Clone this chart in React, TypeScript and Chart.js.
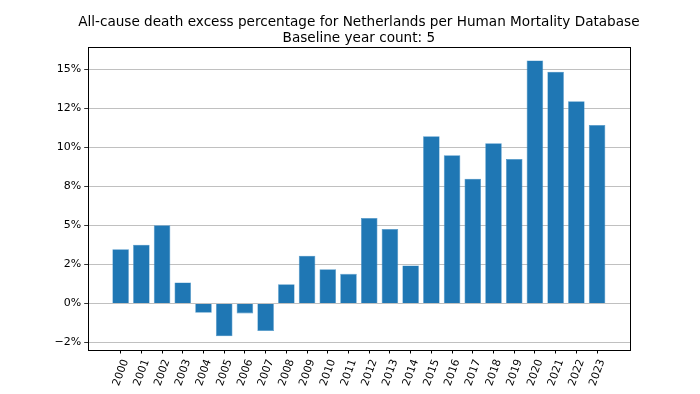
import React, { useEffect, useRef } from "react";
import { Chart, registerables } from "chart.js";

Chart.register(...registerables);

const years = [
  "2000", "2001", "2002", "2003", "2004", "2005", "2006", "2007", "2008", "2009",
  "2010", "2011", "2012", "2013", "2014", "2015", "2016", "2017", "2018", "2019",
  "2020", "2021", "2022", "2023",
];
const excessPercent = [
  3.47, 3.77, 5.01, 1.35, -0.6, -2.1, -0.64, -1.76, 1.24, 3.06,
  2.2, 1.9, 5.48, 4.77, 2.44, 10.71, 9.49, 7.99, 10.26, 9.25,
  15.57, 14.85, 12.96, 11.44,
];
const yTickValues = [-2.5, 0, 2.5, 5, 7.5, 10, 12.5, 15];
const yTickLabels = ["\u22122%", "0%", "2%", "5%", "8%", "10%", "12%", "15%"];
const titleLines = [
  "All-cause death excess percentage for Netherlands per Human Mortality Database",
  "Baseline year count: 5",
];

const FONT = "'DejaVu Sans', sans-serif";

const framePlugin = {
  id: "frame",
  afterDraw(chart: any) {
    const { ctx, chartArea } = chart;
    ctx.save();
    ctx.strokeStyle = "#000";
    ctx.lineWidth = 1;
    ctx.strokeRect(
      Math.round(chartArea.left) + 0.5,
      Math.round(chartArea.top) + 0.5,
      Math.round(chartArea.right - chartArea.left),
      Math.round(chartArea.bottom - chartArea.top)
    );
    // Title centred over the axes, like matplotlib
    const cx = (chartArea.left + chartArea.right) / 2;
    ctx.fillStyle = "#000";
    ctx.font = `13.6px ${FONT}`;
    ctx.textAlign = "center";
    ctx.textBaseline = "alphabetic";
    ctx.fillText(titleLines[0], cx, 26);
    ctx.fillText(titleLines[1], cx, 41.6);
    ctx.restore();
  },
};

export default function App() {
  const ref = useRef<HTMLCanvasElement | null>(null);
  useEffect(() => {
    document.body.style.margin = "0";
    const canvas = ref.current!;
    const chart = new Chart(canvas, {
      type: "bar",
      data: {
        datasets: [
          {
            data: excessPercent.map((v, i) => ({ x: i, y: v })),
            backgroundColor: "#1f77b4",
            borderColor: "#4a94c8",
            borderWidth: 0.6,
            barPercentage: 0.8,
            categoryPercentage: 1,
          },
        ],
      },
      options: {
        animation: false,
        responsive: false,
        maintainAspectRatio: false,
        layout: { padding: { left: 0, right: 70, top: 46.7, bottom: 0 } },
        plugins: {
          legend: { display: false },
          tooltip: { enabled: false },
          title: { display: false },
        },
        scales: {
          x: {
            type: "linear",
            min: -1.59,
            max: 24.59,
            offset: false,
            afterBuildTicks: (scale: any) => {
              scale.ticks = years.map((_, i) => ({ value: i }));
            },
            afterFit: (scale: any) => {
              scale.height = 44;
            },
            ticks: {
              autoSkip: false,
              minRotation: 70,
              maxRotation: 70,
              labelOffset: 5,
              padding: 4,
              color: "#000",
              font: { family: FONT, size: 10.8 },
              callback: (v: any) => years[v] ?? "",
            },
            grid: {
              offset: false,
              drawOnChartArea: false,
              drawTicks: true,
              tickLength: 3.5,
              tickColor: "#000",
            },
            border: { display: false },
          },
          y: {
            type: "linear",
            min: -2.98,
            max: 16.45,
            afterBuildTicks: (scale: any) => {
              scale.ticks = yTickValues.map((v) => ({ value: v }));
            },
            afterFit: (scale: any) => {
              scale.width = 87.7;
            },
            ticks: {
              color: "#000",
              padding: 3,
              font: { family: FONT, size: 11 },
              callback: (v: any) => {
                const idx = yTickValues.indexOf(Number(v));
                return idx >= 0 ? yTickLabels[idx] : "";
              },
            },
            grid: {
              color: "#b0b0b0",
              lineWidth: 0.8,
              drawTicks: true,
              tickLength: 3.5,
              tickColor: "#000",
            },
            border: { display: false },
          },
        },
      },
      plugins: [framePlugin],
    } as any);
    return () => chart.destroy();
  }, []);
  return (
    <div style={{ width: 700, height: 394 }}>
      <canvas ref={ref} width={700} height={394} style={{ display: "block" }} />
    </div>
  );
}
